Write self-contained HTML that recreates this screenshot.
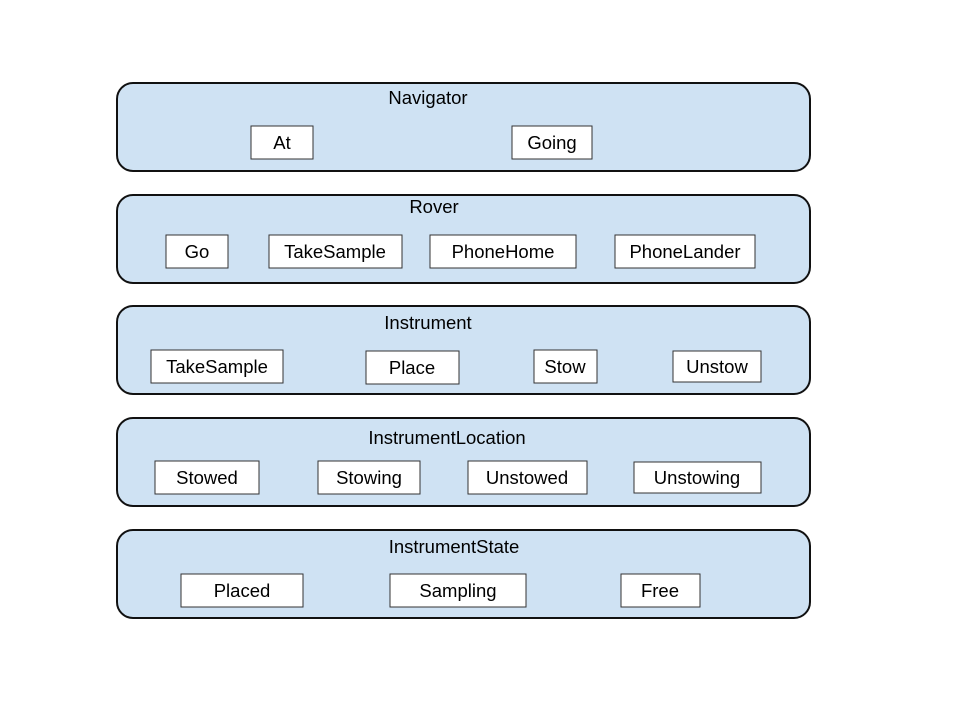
<!DOCTYPE html>
<html><head><meta charset="utf-8"><style>
body{margin:0;background:#fff;}
svg text{font-family:"Liberation Sans",Arial,sans-serif;font-size:18.5px;fill:#000;}
</style></head><body>
<svg width="960" height="720" xmlns="http://www.w3.org/2000/svg">
<g fill="#cfe2f3" stroke="#111" stroke-width="2">
<rect x="117" y="83" width="693" height="88" rx="16"/>
<rect x="117" y="195" width="693" height="88" rx="16"/>
<rect x="117" y="306" width="693" height="88" rx="16"/>
<rect x="117" y="418" width="693" height="88" rx="16"/>
<rect x="117" y="530" width="693" height="88" rx="16"/>
</g>
<g text-anchor="middle">
<text x="428" y="104">Navigator</text>
<text x="434" y="213">Rover</text>
<text x="428" y="329">Instrument</text>
<text x="447" y="444">InstrumentLocation</text>
<text x="454" y="553">InstrumentState</text>
</g>
<g fill="#fff" stroke="#333" stroke-width="1">
<rect x="251" y="126" width="62" height="33"/>
<rect x="512" y="126" width="80" height="33"/>
<rect x="166" y="235" width="62" height="33"/>
<rect x="269" y="235" width="133" height="33"/>
<rect x="430" y="235" width="146" height="33"/>
<rect x="615" y="235" width="140" height="33"/>
<rect x="151" y="350" width="132" height="33"/>
<rect x="366" y="351" width="93" height="33"/>
<rect x="534" y="350" width="63" height="33"/>
<rect x="673" y="351" width="88" height="31"/>
<rect x="155" y="461" width="104" height="33"/>
<rect x="318" y="461" width="102" height="33"/>
<rect x="468" y="461" width="119" height="33"/>
<rect x="634" y="462" width="127" height="31"/>
<rect x="181" y="574" width="122" height="33"/>
<rect x="390" y="574" width="136" height="33"/>
<rect x="621" y="574" width="79" height="33"/>
</g>
<g text-anchor="middle">
<text x="282" y="149">At</text>
<text x="552" y="149">Going</text>
<text x="197" y="258">Go</text>
<text x="335" y="258">TakeSample</text>
<text x="503" y="258">PhoneHome</text>
<text x="685" y="258">PhoneLander</text>
<text x="217" y="373">TakeSample</text>
<text x="412" y="374">Place</text>
<text x="565" y="373">Stow</text>
<text x="717" y="373">Unstow</text>
<text x="207" y="484">Stowed</text>
<text x="369" y="484">Stowing</text>
<text x="527" y="484">Unstowed</text>
<text x="697" y="484">Unstowing</text>
<text x="242" y="597">Placed</text>
<text x="458" y="597">Sampling</text>
<text x="660" y="597">Free</text>
</g>
</svg>
</body></html>
